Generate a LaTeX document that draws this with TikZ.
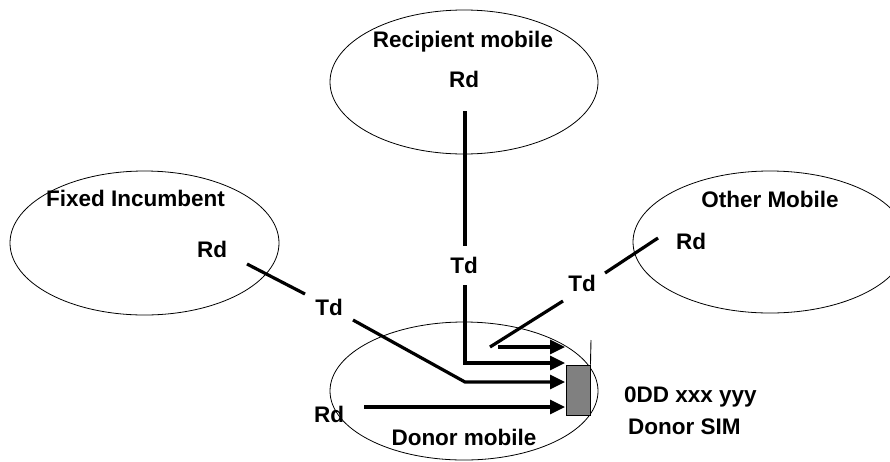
\documentclass[tikz,border=0pt]{standalone}
\usepackage{fontspec}
\setmainfont{Liberation Sans}
\usetikzlibrary{shapes.geometric,arrows.meta}
\begin{document}
\begin{tikzpicture}[x=1pt,y=-1pt,
  lbl/.style={font=\fontsize{22.5}{25}\selectfont\bfseries, inner sep=0pt, anchor=base},
  lblw/.style={lbl, anchor=base west},
  zone/.style={draw, ellipse, line width=0.8pt, inner sep=0pt},
  wire/.style={line width=3.2pt},
  feed/.style={line width=3.2pt, -{Triangle[length=15pt,width=14pt]}},
  sim/.style={draw, line width=0.9pt, fill=black!50, inner sep=0pt, minimum width=24pt, minimum height=50pt},
]
\useasboundingbox (0,0) rectangle (890,461);

% zones
\node[zone, minimum width=268pt, minimum height=144pt] (rec) at (464,82) {};
\node[zone, minimum width=269pt, minimum height=144pt] (fix) at (144.5,243) {};
\node[zone, minimum width=274pt, minimum height=142pt] (oth) at (770,242) {};
\node[zone, minimum width=268pt, minimum height=138pt] (don) at (464,391) {};

% SIM card
\node[sim] (card) at (578,390) {};
\coordinate (mark) at (591,340);
\draw[line width=0.9pt] (mark) -- (card.north east);

% labels
\node[lbl] (recT) at (463,47) {Recipient mobile};
\node[lbl] (recRd) at (464,87) {Rd};
\node[lbl] (fixT) at (135.5,206) {Fixed Incumbent};
\node[lbl] (fixRd) at (212,257) {Rd};
\node[lbl] (othT) at (770,207) {Other Mobile};
\node[lbl] (othRd) at (691,249) {Rd};
\node[lbl] (td1) at (464,273) {Td};
\node[lbl] (td2) at (329,315) {Td};
\node[lbl] (td3) at (582,291) {Td};
\node[lbl] (donRd) at (329,422) {Rd};
\node[lbl] (donT) at (464,445) {Donor mobile};
\node[lblw] (num) at (624,402) {0DD xxx yyy};
\node[lblw] (simT) at (628,434) {Donor SIM};

% connector coordinates
\coordinate (a1) at (465,111);
\coordinate (a2) at (465,246);
\coordinate (a3) at (465,285);
\coordinate (a4) at (565,363);

\coordinate (b1) at (247,264);
\coordinate (b2) at (305,294);
\coordinate (b3) at (353,320);
\coordinate (b4) at (465,382);
\coordinate (b5) at (565,382);

\coordinate (c1) at (658,238);
\coordinate (c2) at (605,273);
\coordinate (c3) at (563,301);
\coordinate (c4) at (490,347);
\coordinate (c5) at (498,347);
\coordinate (c6) at (565,347);

\coordinate (d1) at (364,407);
\coordinate (d2) at (565,407);

% recipient path
\draw[wire] (a1) -- (a2);
\draw[feed] (a3) |- (a4);
% fixed path
\draw[wire] (b1) -- (b2);
\draw[feed] (b3) -- (b4) -- (b5);
% other path
\draw[wire] (c1) -- (c2);
\draw[wire] (c3) -- (c4);
\draw[feed] (c5) -- (c6);
% donor path
\draw[feed] (d1) -- (d2);
\end{tikzpicture}
\end{document}
